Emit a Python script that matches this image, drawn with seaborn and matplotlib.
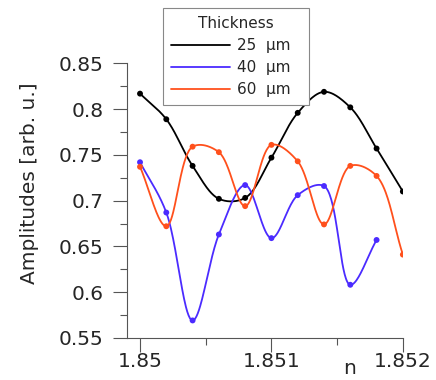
import numpy as np
import pandas as pd
import matplotlib
matplotlib.use("Agg")
import matplotlib.pyplot as plt
import seaborn as sns
from matplotlib.ticker import MultipleLocator

# refractive index steps and amplitudes
n_vals = [1.8500, 1.8502, 1.8504, 1.8506, 1.8508, 1.8510,
          1.8512, 1.8514, 1.8516, 1.8518, 1.8520]
amp_25 = [0.817, 0.789, 0.738, 0.702, 0.703, 0.747,
          0.796, 0.819, 0.802, 0.757, 0.710]
amp_40 = [0.742, 0.687, 0.569, 0.663, 0.717, 0.659,
          0.706, 0.716, 0.608, 0.657]
amp_60 = [0.737, 0.672, 0.759, 0.753, 0.694, 0.761,
          0.743, 0.674, 0.738, 0.727, 0.641]
labels = ["25  μm", "40  μm", "60  μm"]
colors = ["#000000", "#4b2bff", "#ff501c"]

# rough screen aspect: one n step (0.0002) ~ 26 px, one amplitude unit ~ 914 px
SX = 1 / 0.0002
SY = 914 / 26.3


def smooth_curve(x, y, per_seg=40):
    # centripetal Catmull-Rom through the points (only for drawing the line)
    P = np.column_stack([np.asarray(x) * SX, np.asarray(y) * SY])
    P = np.vstack([2 * P[0] - P[1], P, 2 * P[-1] - P[-2]])
    out = []
    for i in range(1, len(P) - 2):
        p0, p1, p2, p3 = P[i - 1], P[i], P[i + 1], P[i + 2]
        t0 = 0.0
        t1 = t0 + np.linalg.norm(p1 - p0) ** 0.5
        t2 = t1 + np.linalg.norm(p2 - p1) ** 0.5
        t3 = t2 + np.linalg.norm(p3 - p2) ** 0.5
        t = np.linspace(t1, t2, per_seg)[:, None]
        a1 = (t1 - t) / (t1 - t0) * p0 + (t - t0) / (t1 - t0) * p1
        a2 = (t2 - t) / (t2 - t1) * p1 + (t - t1) / (t2 - t1) * p2
        a3 = (t3 - t) / (t3 - t2) * p2 + (t - t2) / (t3 - t2) * p3
        b1 = (t2 - t) / (t2 - t0) * a1 + (t - t0) / (t2 - t0) * a2
        b2 = (t3 - t) / (t3 - t1) * a2 + (t - t1) / (t3 - t1) * a3
        c = (t2 - t) / (t2 - t1) * b1 + (t - t1) / (t2 - t1) * b2
        out.append(c if i == 1 else c[1:])
    out = np.vstack(out)
    return out[:, 0] / SX, out[:, 1] / SY


sns.set_style("ticks")
plt.rcParams["font.family"] = ["DejaVu Sans"]

fig = plt.figure(figsize=(4.36, 3.8), dpi=100)
ax = fig.add_axes([0.291, 0.111, 0.633, 0.722])

points = []
curves = []
for lab, amps in zip(labels, [amp_25, amp_40, amp_60]):
    xs_pts = n_vals[:len(amps)]
    points.append(pd.DataFrame({"n": xs_pts, "amp": amps, "Thickness": lab}))
    xs, ys = smooth_curve(xs_pts, amps)
    curves.append(pd.DataFrame({"n": xs, "amp": ys, "Thickness": lab}))
points = pd.concat(points)
curves = pd.concat(curves)

palette = dict(zip(labels, colors))
sns.lineplot(data=curves, x="n", y="amp", hue="Thickness", palette=palette,
             linewidth=1.3, sort=False, estimator=None, ax=ax, legend=False)
sns.scatterplot(data=points, x="n", y="amp", hue="Thickness", palette=palette,
                s=18, edgecolor="none", ax=ax, legend=False, zorder=3)

ax.set_xlim(1.8499, 1.852)
ax.set_ylim(0.55, 0.85)
ax.xaxis.set_major_locator(MultipleLocator(0.001))
ax.xaxis.set_minor_locator(MultipleLocator(0.0005))
ax.yaxis.set_major_locator(MultipleLocator(0.05))
ax.yaxis.set_minor_locator(MultipleLocator(0.025))
ax.xaxis.set_major_formatter(plt.FuncFormatter(lambda v, p: f"{v:g}"))
ax.yaxis.set_major_formatter(plt.FuncFormatter(lambda v, p: f"{v:g}"))
ax.tick_params(which="major", length=10, width=0.8, color="#555555",
               labelsize=14.5, direction="out")
ax.tick_params(which="minor", length=5, width=0.8, color="#555555",
               direction="out")
ax.tick_params(axis="y", which="major", pad=7)
ax.tick_params(axis="x", which="major", pad=0.5)
for side in ["top", "right"]:
    ax.spines[side].set_visible(False)
for side in ["left", "bottom"]:
    ax.spines[side].set_color("#555555")
    ax.spines[side].set_linewidth(0.8)

ax.set_ylabel("Amplitudes [arb. u.]", fontsize=14.5)
ax.yaxis.set_label_coords(-0.32, 0.564)
ax.set_xlabel("")
fig.text(350 / 436, 1 - 368 / 380, "n", fontsize=14.5, ha="center", va="center")

handles = [plt.Line2D([], [], color=c, linewidth=1.3) for c in colors]
leg = fig.legend(handles, labels, title="Thickness", loc="upper left",
                 bbox_to_anchor=(163 / 436, 1 - 103 / 380, 146 / 436, 95 / 380),
                 mode="expand", fontsize=11, title_fontsize=11,
                 handlelength=3.85, handletextpad=0.45, borderpad=0.55,
                 labelspacing=0.45, fancybox=False, framealpha=1,
                 edgecolor="#888888", borderaxespad=0)
leg.get_frame().set_linewidth(0.8)

fig.savefig("out.png", dpi=100)
